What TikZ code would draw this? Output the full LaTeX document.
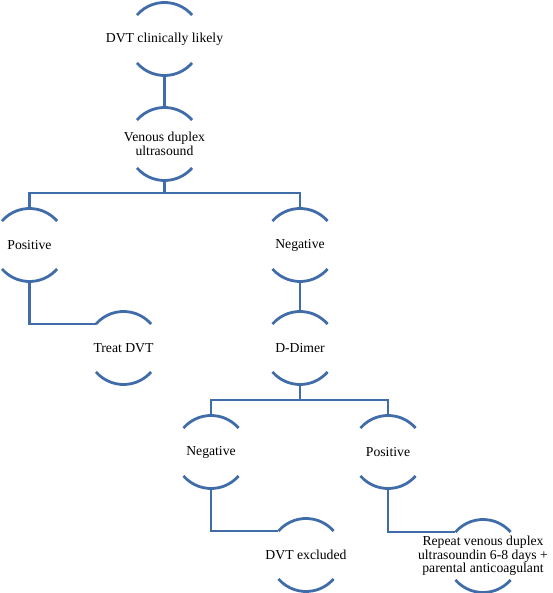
\documentclass[tikz,border=0pt]{standalone}
\usepackage{fontspec}
\setmainfont{Liberation Serif}
\definecolor{lnblue}{RGB}{65,108,170}
\tikzset{
  bub/.style={circle, minimum size=73pt, inner sep=0pt, outer sep=0pt},
  txt/.style={inner sep=0pt, align=center, font=\fontsize{13.7}{13.6}\selectfont, text=black},
  ln/.style={draw=lnblue, line width=2.8pt},
}
\begin{document}
\begin{tikzpicture}[x=1pt,y=1pt]
\useasboundingbox (0,0) rectangle (552,593);
\node[bub, label={[txt,name=t1]center:DVT clinically likely}] (n1) at (164.5,554) {};
\node[bub, label={[txt,name=t2]center:Venous duplex\\ultrasound}] (n2) at (164.5,449) {};
\node[bub, label={[txt,name=t3]center:Positive}] (pos) at (29.5,348) {};
\node[bub, label={[txt,name=t4]center:Treat DVT}] (treat) at (123.5,245) {};
\node[bub, label={[txt,name=t5]center:Negative}] (neg) at (300,348) {};
\node[bub, label={[txt,name=t6]center:D-Dimer}] (dd) at (300,245) {};
\node[bub, label={[txt,name=t7]center:Negative}] (neg2) at (211,141) {};
\node[bub, label={[txt,name=t8]center:DVT excluded}] (dvtex) at (306,38) {};
\node[bub, label={[txt,name=t9]center:Positive}] (pos2) at (388,141) {};
\node[bub, label={[txt,name=t10]center:Repeat venous duplex\\ultrasoundin 6-8 days +\\parental anticoagulant}] (rep) at (483,37) {};
\foreach \n in {n1,n2,pos,treat,neg,dd,neg2,dvtex,pos2,rep}{
  \draw[ln] (\n.139) arc[start angle=139, end angle=41, radius=36.5pt];
  \draw[ln] (\n.221) arc[start angle=221, end angle=319, radius=36.5pt];
}
\coordinate (b1) at (164.5,400);
\coordinate (b2) at (300,193);
\draw[ln] (n1.south) -- (n2.north);
\draw[ln] (n2.south) -- (b1);
\draw[ln] (pos.north) |- (b1) -| (neg.north);
\draw[ln] (pos.south) |- (treat.139);
\draw[ln] (neg.south) -- (dd.north);
\draw[ln] (dd.south) -- (b2);
\draw[ln] (neg2.north) |- (b2) -| (pos2.north);
\draw[ln] (neg2.south) |- (dvtex.139);
\draw[ln] (pos2.south) |- (rep.139);
\end{tikzpicture}
\end{document}
